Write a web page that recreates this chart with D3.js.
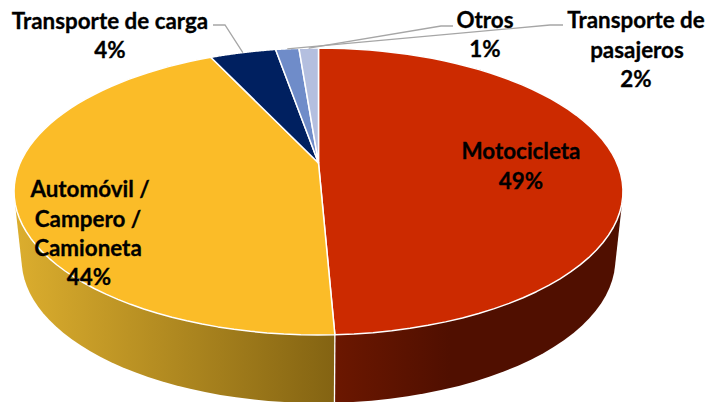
<!doctype html>
<html>
  <head>
    <meta charset="utf-8">
    <script src="https://cdn.jsdelivr.net/npm/d3@7"></script>
    <style>
      body { margin: 0; background: #fff; }
      svg { display: block; }
      .lbl { font-family: Lato, "Open Sans", sans-serif; font-weight: 700; font-size: 22.4px; fill: #000; stroke: #000; stroke-width: 0.3px; text-anchor: middle; }
    </style>
  </head>
  <body>
    <script>
      var categories = ["Motocicleta", "Automóvil / Campero / Camioneta", "Transporte de carga", "Transporte de pasajeros", "Otros"];
      var shares = [49.3, 43.7, 4.25, 1.5, 1.25];
      var percentLabels = ["49%", "44%", "4%", "2%", "1%"];
      var colors = ["#cc2a00", "#fbbc28", "#002060", "#6f8cc9", "#b4bfdf"];

      var width = 707, height = 402;

      var svg = d3.select("body").append("svg")
          .attr("width", width)
          .attr("height", height);

      // tilted disc: unit circle -> screen, perspective squeezes the far side
      var tilt = -0.1986;
      var x = d3.scaleLinear().domain([-1, 1]).range([318.5 - 298.4, 318.5 + 298.4]);
      var y = d3.scaleLinear().domain([-1, 1]).range([163 - 137.8, 163 + 137.8]);
      var wallDrop = 68, wallShrink = 0.975;

      function rim(a, lower) {
          var u = Math.sin(a), v = -Math.cos(a), w = 1 + tilt * v;
          var px = x(u / w), py = y(v / w);
          if (lower) return [x(0) + (px - x(0)) * wallShrink, py + wallDrop];
          return [px, py];
      }

      function arcAngles(s) {
          return d3.range(0, 61).map(i => s.startAngle + (s.endAngle - s.startAngle) * i / 60);
      }

      var pie = d3.pie().sort(null).value(d => d);
      var slices = pie(shares);
      var line = d3.line();

      // side wall gradients
      var defs = svg.append("defs");
      var wallStops = [
          [[336, "#6b1700"], [450, "#500f00"], [623, "#500f00"]],
          [[14, "#dcae2e"], [336, "#836312"]]
      ];
      wallStops.forEach(function(stops, i) {
          var g = defs.append("linearGradient")
              .attr("id", "wall" + i)
              .attr("gradientUnits", "userSpaceOnUse")
              .attr("x1", stops[0][0]).attr("x2", stops[stops.length - 1][0])
              .attr("y1", 0).attr("y2", 0);
          stops.forEach(function(s) {
              g.append("stop")
                  .attr("offset", (s[0] - stops[0][0]) / (stops[stops.length - 1][0] - stops[0][0]))
                  .attr("stop-color", s[1]);
          });
      });

      // walls first, only the two big slices show at the front. hull of both rims
      // so the sides run straight between the top and bottom ellipse
      svg.selectAll(".wall").data(slices.slice(0, 2)).enter().append("path")
          .attr("class", "wall")
          .attr("fill", (d, i) => "url(#wall" + i + ")")
          .attr("d", function(d) {
              var as = arcAngles(d);
              return line(d3.polygonHull(as.map(a => rim(a)).concat(as.map(a => rim(a, true))))) + "Z";
          });

      // seam between the two walls
      var seam = slices[0].endAngle;
      svg.append("path")
          .attr("d", line([rim(seam), rim(seam, true)]))
          .attr("stroke", "#fff").attr("stroke-width", 1.3).attr("fill", "none");

      // top face
      svg.selectAll(".slice").data(slices).enter().append("path")
          .attr("class", "slice")
          .attr("fill", (d, i) => colors[i])
          .attr("stroke", "#fff")
          .attr("stroke-width", 1.5)
          .attr("stroke-linejoin", "round")
          .attr("d", d => line([[x(0), y(0)]].concat(arcAngles(d).map(a => rim(a)))) + "Z");

      // leader lines: label end, elbow, then the rim of the slice
      var leaders = [
          { slice: 2, pts: [[213, 25], [225, 25]] },
          { slice: 3, pts: [[563, 25], [550, 25]] },
          { slice: 4, pts: [[453, 26], [441, 26]] }
      ];
      leaders.forEach(function(l) {
          var s = slices[l.slice];
          svg.append("path")
              .attr("d", line(l.pts.concat([rim((s.startAngle + s.endAngle) / 2)])))
              .attr("fill", "none")
              .attr("stroke", "#a6a6a6")
              .attr("stroke-width", 1.3);
      });

      // labels, one line per row
      var labelRows = [
          { i: 0, rows: [["Motocicleta", 521, 159]], pct: [521, 189] },
          { i: 1, rows: [["Automóvil /", 90, 197], ["Campero /", 88, 227], ["Camioneta", 88, 256]], pct: [89, 285] },
          { i: 2, rows: [["Transporte de carga", 110, 29]], pct: [110, 58] },
          { i: 4, rows: [["Otros", 485, 28]], pct: [485, 57] },
          { i: 3, rows: [["Transporte de", 636, 28], ["pasajeros", 637, 58]], pct: [636, 87] }
      ];
      labelRows.forEach(function(l) {
          l.rows.forEach(function(r) {
              svg.append("text").attr("class", "lbl").attr("x", r[1]).attr("y", r[2]).text(r[0]);
          });
          svg.append("text").attr("class", "lbl").attr("x", l.pct[0]).attr("y", l.pct[1]).text(percentLabels[l.i]);
      });
    </script>
  </body>
</html>
